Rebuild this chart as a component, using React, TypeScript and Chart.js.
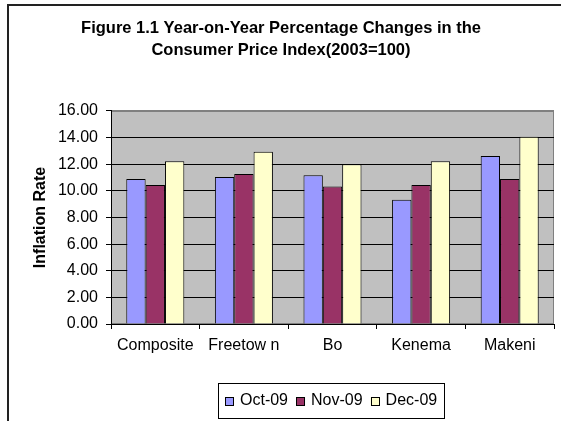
import React, { useEffect, useRef } from 'react';
import { Chart, registerables } from 'chart.js';

Chart.register(...registerables);

const categories = ['Composite', 'Freetow n', 'Bo', 'Kenema', 'Makeni'];
const seriesNames = ['Oct-09', 'Nov-09', 'Dec-09'];
const oct09 = [10.9, 11.05, 11.18, 9.34, 12.61];
const nov09 = [10.44, 11.27, 10.32, 10.44, 10.9];
const dec09 = [12.23, 12.93, 12.0, 12.23, 14.06];
const seriesColors = ['#9999FF', '#993366', '#FFFFCC'];
const yTickValues = [0, 2, 4, 6, 8, 10, 12, 14, 16];
const titleLines = ['Figure 1.1 Year-on-Year Percentage Changes in the', 'Consumer Price Index(2003=100)'];
const yAxisTitle = 'Inflation Rate';

const FAMILY = '"Liberation Sans", Arial, Helvetica, sans-serif';

const backgroundPlugin = {
  id: 'plotBackground',
  beforeDraw(chart: any) {
    const { ctx, chartArea } = chart;
    ctx.save();
    ctx.fillStyle = '#ffffff';
    ctx.fillRect(0, 0, chart.width, chart.height);
    // outer frame (only top and left are visible in the crop)
    ctx.strokeStyle = '#222222';
    ctx.lineWidth = 2;
    ctx.strokeRect(8, 5, chart.width + 100, chart.height + 100);
    // plot area
    ctx.fillStyle = '#C0C0C0';
    ctx.fillRect(chartArea.left, chartArea.top, chartArea.right - chartArea.left, chartArea.bottom - chartArea.top);
    ctx.strokeStyle = '#808080';
    ctx.lineWidth = 1;
    ctx.strokeRect(
      Math.round(chartArea.left) + 0.5,
      Math.round(chartArea.top) + 0.5,
      Math.round(chartArea.right - chartArea.left) - 1,
      Math.round(chartArea.bottom - chartArea.top) - 1
    );
    ctx.restore();
  },
};

const boxLegendPlugin = {
  id: 'boxLegend',
  afterDraw(chart: any) {
    const { ctx, chartArea } = chart;
    ctx.save();
    ctx.font = `16px ${FAMILY}`;
    const box = 9;
    const gapText = 6;
    const gapItem = 8;
    const padX = 7;
    const items = chart.data.datasets.map((ds: any) => ({
      text: ds.label as string,
      color: ds.backgroundColor as string,
      w: ctx.measureText(ds.label).width,
    }));
    const inner =
      items.reduce((s: number, it: any) => s + box + gapText + it.w, 0) + gapItem * (items.length - 1);
    const w = Math.round(inner + padX * 2);
    const h = 35;
    const cx = (chartArea.left + chartArea.right) / 2;
    const left = Math.round(cx - w / 2) - 2;
    const top = chart.height - 38;
    ctx.fillStyle = '#ffffff';
    ctx.fillRect(left, top, w, h);
    ctx.strokeStyle = '#000000';
    ctx.lineWidth = 1;
    ctx.strokeRect(left + 0.5, top + 0.5, w, h);
    let x = left + padX;
    const cy = top + h / 2 + 0.5;
    ctx.textBaseline = 'middle';
    ctx.textAlign = 'left';
    for (const it of items) {
      const by = Math.round(cy - box / 2);
      ctx.fillStyle = it.color;
      ctx.fillRect(x, by, box, box);
      ctx.strokeStyle = '#000000';
      ctx.strokeRect(Math.round(x) + 0.5, by + 0.5, box - 1, box - 1);
      ctx.fillStyle = '#000000';
      ctx.fillText(it.text, x + box + gapText, cy);
      x += box + gapText + it.w + gapItem;
    }
    ctx.restore();
  },
};

export default function App() {
  const canvasRef = useRef<HTMLCanvasElement | null>(null);

  useEffect(() => {
    const canvas = canvasRef.current;
    if (!canvas) return;
    const seriesValues = [oct09, nov09, dec09];
    const chart = new Chart(canvas, {
      type: 'bar',
      data: {
        labels: categories,
        datasets: seriesNames.map((name, i) => ({
          label: name,
          data: seriesValues[i],
          backgroundColor: seriesColors[i],
          borderColor: '#000000',
          borderWidth: 1,
          categoryPercentage: 0.655,
          barPercentage: 1.0,
        })),
      },
      options: {
        responsive: false,
        animation: false,
        devicePixelRatio: 1,
        layout: { padding: { left: 8, right: 7, top: 0, bottom: 51 } },
        font: { family: FAMILY },
        plugins: {
          legend: { display: false },
          tooltip: { enabled: false },
          title: {
            display: true,
            text: titleLines,
            color: '#000000',
            font: { family: FAMILY, size: 16.5, weight: 'bold', lineHeight: 1.33 },
            padding: { top: 17.5, bottom: 49.6 },
          },
        },
        scales: {
          x: {
            offset: true,
            grid: {
              display: true,
              offset: true,
              drawOnChartArea: false,
              drawTicks: true,
              tickLength: 5,
              tickColor: '#000000',
              color: '#000000',
            },
            border: { display: true, color: '#000000', width: 1 },
            ticks: {
              color: '#000000',
              font: { family: FAMILY, size: 16 },
              padding: 7,
              maxRotation: 0,
              autoSkip: false,
            },
            afterFit(scale: any) {
              scale.height = 46;
            },
          },
          y: {
            min: 0,
            max: 16,
            afterBuildTicks(scale: any) {
              scale.ticks = yTickValues.map((v) => ({ value: v }));
            },
            grid: {
              color: (c: any) => (c.tick && c.tick.value === 16 ? '#808080' : '#000000'),
              tickColor: '#000000',
              tickLength: 5,
              lineWidth: 1,
            },
            border: { display: true, color: '#000000', width: 1 },
            ticks: {
              color: '#000000',
              font: { family: FAMILY, size: 16 },
              padding: 8,
              callback: (v: any) => Number(v).toFixed(2),
            },
            title: {
              display: true,
              text: yAxisTitle,
              color: '#000000',
              font: { family: FAMILY, size: 16, weight: 'bold', lineHeight: 1.2 },
              padding: { top: 23, bottom: 0 },
            },
            afterFit(scale: any) {
              scale.width = 103;
            },
          },
        },
      } as any,
      plugins: [backgroundPlugin, boxLegendPlugin],
    });
    return () => chart.destroy();
  }, []);

  return (
    <div
      style={{
        position: 'fixed',
        left: 0,
        top: 0,
        width: 561,
        height: 421,
        overflow: 'hidden',
        background: '#ffffff',
      }}
    >
      <canvas ref={canvasRef} width={561} height={421} style={{ display: 'block', width: 561, height: 421 }} />
    </div>
  );
}
